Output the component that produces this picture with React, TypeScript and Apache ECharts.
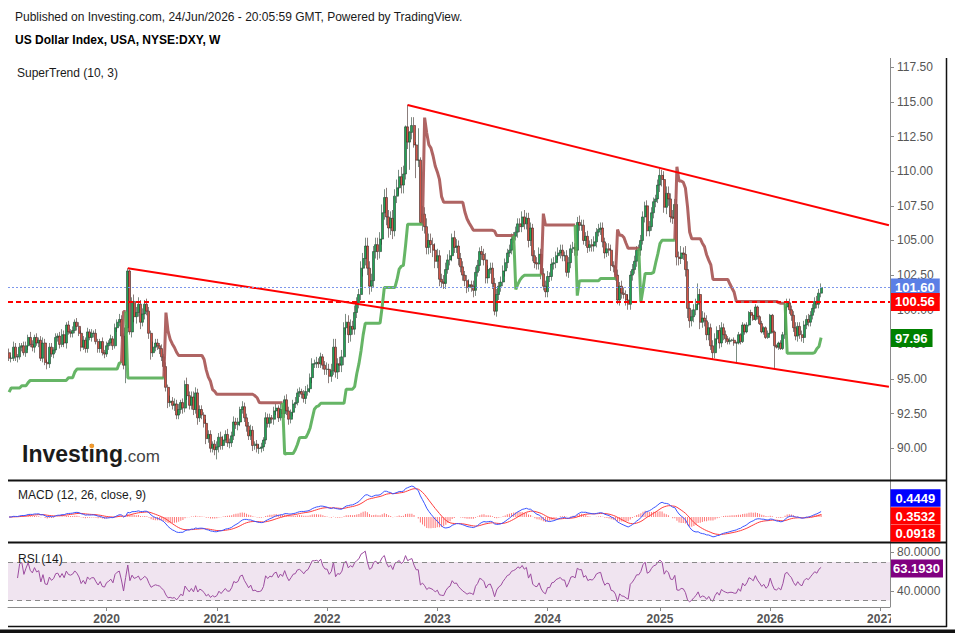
import React, { useEffect, useRef } from "react";
import * as echarts from "echarts";

// ---------- axis / time ----------
const START_WEEK = "2019-02-18"; // Monday of first weekly bar
const WEEK_COUNT = 416; // weeks shown on the time axis (data + empty right margin)
const FIRST_OPEN = 96.9;

// ---------- weekly closes (US Dollar Index) ----------
const closes2019 = [96.5, 96.5, 97.3, 96.6, 96.6, 97.3, 97.4, 96.9, 97.4, 98.0, 97.5, 97.3, 98.0, 97.6, 97.8, 96.5, 97.6, 96.2, 96.1, 97.3, 96.8, 97.1, 98.0, 98.1, 97.5, 98.2, 97.6, 98.9, 98.4, 98.3, 98.5, 99.1, 98.8, 98.3, 97.3, 97.8, 97.2, 98.4, 98.0, 98.3, 98.3, 97.7, 97.2, 97.7, 96.9, 96.8];
const closes2020 = [97.4, 97.6, 97.9, 97.4, 98.7, 99.1, 99.3, 98.1, 96.0, 98.7, 102.8, 98.4, 100.6, 99.5, 99.8, 100.4, 99.1, 99.7, 100.4, 99.9, 98.3, 96.9, 97.3, 97.6, 97.4, 97.2, 96.6, 95.9, 94.4, 93.3, 93.4, 93.1, 93.2, 92.4, 92.8, 93.3, 92.9, 94.6, 93.8, 93.1, 93.7, 92.8, 94.0, 92.2, 92.8, 92.4, 91.8, 90.7, 91.0, 90.0, 90.3, 89.9];
const closes2021 = [90.1, 90.8, 90.2, 90.6, 91.0, 90.4, 90.4, 90.9, 91.9, 91.7, 91.9, 92.8, 93.0, 92.2, 91.6, 90.9, 91.3, 90.2, 90.3, 90.0, 90.0, 90.1, 90.6, 92.2, 91.8, 92.2, 92.1, 92.7, 92.9, 92.2, 92.8, 92.5, 93.5, 92.7, 92.1, 92.6, 93.2, 93.3, 94.0, 94.1, 93.9, 93.6, 94.1, 94.3, 95.1, 96.1, 96.1, 96.2, 96.1, 96.6, 96.0, 95.7];
const closes2022 = [95.7, 95.2, 95.6, 97.3, 95.5, 96.1, 96.0, 96.6, 98.7, 99.1, 98.2, 98.8, 98.6, 99.8, 100.5, 101.1, 103.0, 103.7, 104.6, 103.0, 101.7, 102.1, 104.2, 104.7, 104.2, 105.1, 107.0, 108.1, 106.7, 105.9, 106.6, 105.7, 108.2, 108.8, 109.6, 109.0, 109.8, 113.2, 112.1, 112.8, 113.3, 111.9, 110.8, 110.8, 106.3, 106.9, 106.0, 104.5, 105.0, 104.7, 104.3, 103.5];
const closes2023 = [103.9, 102.2, 102.0, 101.9, 102.9, 103.6, 103.9, 105.2, 104.5, 104.6, 103.7, 103.1, 102.5, 102.1, 101.6, 101.8, 101.7, 101.4, 102.7, 103.2, 104.2, 104.0, 103.6, 102.3, 102.9, 103.0, 101.9, 99.9, 101.1, 101.7, 102.0, 102.8, 103.4, 104.1, 104.3, 105.1, 105.3, 105.6, 106.2, 106.0, 106.7, 106.2, 106.6, 105.0, 105.9, 103.9, 103.4, 103.3, 104.0, 102.6, 101.7, 101.3];
const closes2024 = [102.4, 102.4, 103.3, 103.4, 103.9, 104.1, 104.3, 103.9, 103.9, 102.7, 103.4, 104.4, 104.5, 104.3, 106.3, 106.1, 106.1, 105.0, 105.3, 104.5, 104.7, 104.6, 104.9, 105.6, 105.8, 105.9, 104.9, 104.1, 104.4, 104.3, 103.2, 103.1, 102.5, 100.7, 101.7, 101.2, 101.1, 100.7, 100.4, 102.5, 102.9, 103.5, 104.3, 104.3, 105.0, 106.7, 107.5, 105.7, 106.0, 107.0, 107.8, 108.0, 109.0];
const closes2025 = [109.7, 109.4, 107.4, 108.4, 108.0, 106.7, 106.6, 107.6, 103.8, 103.7, 104.1, 104.0, 102.9, 100.1, 99.2, 99.5, 100.0, 100.4, 101.1, 99.1, 99.4, 99.2, 98.2, 98.7, 97.4, 96.9, 97.9, 98.5, 97.6, 98.7, 98.2, 97.9, 97.7, 97.8, 97.8, 97.6, 97.6, 98.2, 97.7, 98.9, 98.4, 98.9, 99.8, 99.6, 99.3, 100.2, 99.5, 99.0, 98.4, 98.7, 98.0, 98.3];
const closes2026 = [99.6, 98.4, 97.4, 97.3, 97.6, 97.2, 98.2, 100.2, 100.5, 100.0, 99.6, 98.7, 98.1, 98.8, 98.2, 98.0, 98.9, 99.3, 99.1, 99.6, 100.1, 100.6, 100.4, 101.2, 101.6];

// ---------- wick lengths above / below the body, in tenths of an index point ----------
const upWick2019 = [3, 2, 4, 3, 2, 3, 2, 3, 3, 2, 4, 3, 2, 3, 2, 3, 4, 3, 2, 3, 3, 2, 3, 2, 3, 4, 3, 2, 3, 2, 3, 2, 3, 3, 2, 3, 2, 3, 2, 3, 2, 3, 2, 2, 3, 2];
const downWick2019 = [2, 3, 2, 3, 4, 2, 3, 2, 3, 3, 2, 3, 4, 2, 3, 2, 3, 2, 4, 3, 2, 3, 2, 3, 3, 2, 3, 4, 2, 3, 3, 2, 3, 2, 3, 2, 3, 3, 2, 3, 3, 2, 3, 3, 2, 3];
const upWick2020 = [3, 2, 3, 2, 3, 2, 4, 3, 2, 2, 2, 1, 3, 5, 4, 5, 3, 4, 3, 4, 3, 2, 4, 3, 3, 2, 3, 2, 3, 2, 4, 3, 4, 3, 4, 2, 3, 3, 5, 3, 4, 4, 4, 3, 3, 3, 2, 3, 3, 3, 2, 3];
const downWick2020 = [2, 3, 2, 3, 2, 3, 3, 2, 3, 13, 4, 2, 4, 4, 5, 3, 5, 3, 4, 3, 4, 5, 3, 3, 3, 4, 3, 3, 3, 4, 3, 3, 4, 3, 3, 3, 4, 3, 3, 3, 3, 4, 3, 5, 3, 3, 3, 4, 3, 3, 3, 4];
const upWick2021 = [4, 3, 4, 3, 3, 4, 3, 3, 4, 3, 3, 2, 4, 3, 3, 3, 4, 3, 2, 3, 3, 3, 2, 4, 3, 3, 2, 3, 3, 2, 4, 3, 3, 4, 3, 2, 3, 4, 3, 3, 2, 3, 4, 3, 3, 4, 3, 4, 3, 3, 2, 3];
const downWick2021 = [7, 4, 3, 3, 2, 3, 4, 3, 3, 3, 4, 3, 3, 3, 4, 3, 3, 4, 3, 3, 4, 3, 3, 3, 3, 3, 3, 4, 3, 3, 2, 3, 3, 3, 4, 3, 3, 3, 2, 3, 3, 3, 4, 3, 3, 4, 3, 3, 3, 3, 3, 4];
const upWick2022 = [5, 4, 5, 6, 6, 4, 5, 5, 4, 6, 5, 5, 4, 5, 4, 4, 5, 4, 6, 6, 5, 5, 4, 5, 5, 5, 6, 6, 7, 5, 5, 6, 5, 6, 5, 7, 6, 1, 16, 1, 6, 6, 2, 23, 2, 6, 5, 6, 5, 5, 5, 5];
const downWick2022 = [4, 5, 4, 3, 4, 5, 5, 5, 6, 5, 6, 5, 4, 4, 4, 4, 4, 6, 5, 5, 6, 4, 5, 5, 6, 5, 4, 5, 6, 7, 5, 6, 4, 5, 5, 6, 6, 4, 5, 20, 5, 2, 13, 5, 1, 6, 5, 5, 5, 6, 5, 5];
const upWick2023 = [5, 4, 4, 5, 5, 4, 4, 3, 5, 5, 4, 4, 4, 3, 4, 4, 3, 4, 4, 4, 3, 4, 4, 5, 3, 4, 4, 4, 4, 3, 4, 4, 3, 3, 4, 4, 3, 4, 4, 4, 4, 5, 4, 4, 4, 3, 4, 4, 5, 4, 4, 4];
const downWick2023 = [5, 5, 4, 4, 4, 3, 4, 4, 4, 4, 5, 4, 4, 4, 4, 3, 4, 5, 4, 3, 4, 4, 4, 4, 4, 3, 4, 3, 4, 4, 4, 3, 4, 4, 3, 3, 3, 3, 4, 4, 4, 4, 4, 5, 4, 4, 4, 4, 4, 4, 3, 4];
const upWick2024 = [4, 3, 4, 4, 3, 4, 4, 4, 3, 4, 4, 3, 4, 3, 4, 5, 4, 4, 3, 4, 3, 4, 4, 3, 4, 4, 4, 3, 4, 4, 4, 3, 4, 4, 3, 4, 4, 3, 4, 3, 4, 4, 3, 4, 4, 4, 3, 4, 4, 4, 3, 3, 4];
const downWick2024 = [4, 4, 3, 4, 4, 3, 4, 4, 4, 3, 4, 4, 3, 4, 4, 4, 4, 3, 4, 4, 3, 4, 4, 4, 3, 4, 4, 4, 3, 4, 4, 4, 4, 3, 4, 4, 3, 4, 4, 4, 4, 3, 4, 4, 4, 3, 4, 4, 4, 3, 4, 4, 3];
const upWick2025 = [5, 4, 6, 5, 5, 4, 5, 4, 4, 4, 5, 4, 6, 6, 5, 5, 4, 4, 8, 4, 5, 4, 4, 4, 3, 4, 4, 3, 4, 4, 3, 3, 2, 2, 1, 2, 1, 2, 1, 2, 1, 2, 1, 2, 1, 2, 1, 1, 2, 1, 1, 2];
const downWick2025 = [5, 5, 4, 5, 5, 4, 4, 4, 6, 5, 4, 4, 5, 7, 5, 4, 4, 4, 4, 5, 4, 4, 4, 4, 3, 5, 4, 4, 4, 3, 4, 3, 2, 2, 1, 2, 14, 1, 2, 1, 2, 1, 1, 2, 1, 1, 2, 1, 1, 2, 1, 1];
const upWick2026 = [1, 1, 1, 1, 1, 2, 2, 3, 3, 3, 3, 3, 4, 3, 3, 3, 3, 3, 4, 3, 3, 3, 4, 3, 3];
const downWick2026 = [1, 1, 16, 1, 2, 1, 1, 3, 3, 3, 4, 3, 3, 4, 3, 3, 4, 3, 3, 3, 3, 3, 3, 3, 3];

// ---------- drawn levels / readouts ----------
const trendUpper = [[188, 114.78], [415, 106.1]]; // [week index, price]
const trendLower = [[56, 103.0], [415, 94.45]];
const resistanceLevel = 100.56;
const superTrendReadout = 97.96;
const macdReadouts = ["0.4449", "0.3532", "0.0918"];
const rsiReadout = 63.193;
const priceAxis = { min: 90, max: 117.5, step: 2.5 };

const FONT = '"Liberation Sans", Arial, Helvetica, sans-serif';

// ---------- tables built from the arrays ----------
const closes = [...closes2019, ...closes2020, ...closes2021, ...closes2022, ...closes2023, ...closes2024, ...closes2025, ...closes2026];
const upWicks = [...upWick2019, ...upWick2020, ...upWick2021, ...upWick2022, ...upWick2023, ...upWick2024, ...upWick2025, ...upWick2026];
const downWicks = [...downWick2019, ...downWick2020, ...downWick2021, ...downWick2022, ...downWick2023, ...downWick2024, ...downWick2025, ...downWick2026];
const opens = closes.map((c, i) => (i === 0 ? FIRST_OPEN : closes[i - 1]));
const highs = closes.map((c, i) => +(Math.max(opens[i], c) + upWicks[i] / 10).toFixed(2));
const lows = closes.map((c, i) => +(Math.min(opens[i], c) - downWicks[i] / 10).toFixed(2));
const ohlc = closes.map((c, i) => [opens[i], c, lows[i], highs[i]]);

const categories: string[] = (() => {
  const out: string[] = [];
  const t0 = Date.parse(START_WEEK + "T00:00:00Z");
  for (let i = 0; i < WEEK_COUNT; i++) out.push(new Date(t0 + i * 7 * 86400000).toISOString().slice(0, 10));
  return out;
})();
const isYearStart = (_i: number, v: string) => v.slice(5, 7) === "01" && +v.slice(8, 10) <= 7;

function ema(arr: number[], n: number) {
  const a = 2 / (n + 1);
  const out: number[] = [];
  arr.forEach((v, i) => out.push(i === 0 ? v : a * v + (1 - a) * out[i - 1]));
  return out;
}
const ema12 = ema(closes, 12);
const ema26 = ema(closes, 26);
const macd = closes.map((_, i) => ema12[i] - ema26[i]);
const signal = ema(macd, 9);
const hist = macd.map((m, i) => m - signal[i]);

function rsi(arr: number[], n: number) {
  const out: (number | null)[] = [null];
  let g = 0, l = 0;
  for (let i = 1; i < arr.length; i++) {
    const d = arr[i] - arr[i - 1];
    const up = Math.max(d, 0), dn = Math.max(-d, 0);
    const k = Math.min(i, n);
    g = (g * (k - 1) + up) / k;
    l = (l * (k - 1) + dn) / k;
    out.push(i < 4 ? null : l === 0 ? 100 : 100 - 100 / (1 + g / l));
  }
  return out;
}
const rsi14 = rsi(closes, 14);

function superTrend(period: number, mult: number) {
  const n = closes.length;
  const up: number[] = [], dn: number[] = [], trend: number[] = [];
  let atr = 0;
  for (let i = 0; i < n; i++) {
    const tr = i === 0 ? highs[0] - lows[0] : Math.max(highs[i] - lows[i], Math.abs(highs[i] - closes[i - 1]), Math.abs(lows[i] - closes[i - 1]));
    const k = Math.min(i + 1, period);
    atr = (atr * (k - 1) + tr) / k;
    const hl2 = (highs[i] + lows[i]) / 2;
    let u = hl2 - mult * atr, d = hl2 + mult * atr;
    if (i > 0) {
      if (closes[i - 1] > up[i - 1]) u = Math.max(u, up[i - 1]);
      if (closes[i - 1] < dn[i - 1]) d = Math.min(d, dn[i - 1]);
    }
    up.push(u); dn.push(d);
    let t = i === 0 ? 1 : trend[i - 1];
    if (i > 0) {
      if (t === -1 && closes[i] > dn[i - 1]) t = 1;
      else if (t === 1 && closes[i] < up[i - 1]) t = -1;
    }
    trend.push(t);
  }
  const green: (number | null)[] = [], brown: (number | null)[] = [];
  for (let i = 0; i < n; i++) {
    green.push(trend[i] === 1 ? up[i] : null);
    brown.push(trend[i] === -1 ? dn[i] : null);
    if (i > 0 && trend[i] !== trend[i - 1]) {
      if (trend[i] === 1) green[i - 1] = dn[i - 1];
      else brown[i - 1] = up[i - 1];
    }
  }
  return { green, brown };
}
const st = superTrend(10, 3);

function buildOption() {
  const mVals = [...macd, ...signal, ...hist];
  const mMax = Math.max(...mVals), mMin = Math.min(...mVals);
  const s = Math.max(mMax / 31, -mMin / 23);

  const txt = (x: number, y: number, text: string, size: number, bold = false, fill = "#1a1a1a") => ({
    type: "text", x, y, silent: true, z: 100,
    style: { text, font: `${bold ? "bold " : ""}${size}px ${FONT}`, fill, textVerticalAlign: "middle", textAlign: "left" },
  });
  const line = (x1: number, y1: number, x2: number, y2: number, stroke: string, lineWidth: number) => ({
    type: "line", silent: true, z: 100, shape: { x1, y1, x2, y2 }, style: { stroke, lineWidth },
  });
  const box = (y: number, h: number, fill: string, text: string) => [
    { type: "rect", silent: true, z: 100, shape: { x: 890.5, y, width: 50, height: h }, style: { fill } },
    txt(895.5, y + h / 2 + 0.5, text, 13, true, "#ffffff"),
  ];
  const readout = (value: number, text: string, bg: string) => ({
    yAxis: value,
    lineStyle: { color: "transparent", width: 0 },
    label: { show: true, position: "end", distance: 0, formatter: text, backgroundColor: bg, color: "#fff", fontWeight: "bold", fontSize: 13, fontFamily: FONT, padding: [3, 5, 2, 5] },
  });

  const xAxisBase = (g: number) => ({
    type: "category", gridIndex: g, data: categories, boundaryGap: true,
    axisLine: { show: g === 2, lineStyle: { color: "#8a8a8a" } },
    axisTick: { show: g === 2, interval: isYearStart, alignWithLabel: true, length: 4, lineStyle: { color: "#8a8a8a" } },
    axisLabel: { show: g === 2, interval: isYearStart, formatter: (v: string) => v.slice(0, 4), color: "#555", fontWeight: "bold", fontSize: 12, fontFamily: FONT, margin: 6 },
    splitLine: { show: false },
  });

  return {
    animation: false,
    backgroundColor: "#ffffff",
    textStyle: { fontFamily: FONT },
    grid: [
      { left: 8, right: 65, top: 67.3, height: 381 },
      { left: 8, right: 65, top: 482, height: 60 },
      { left: 8, right: 65, top: 543, height: 64 },
    ],
    xAxis: [xAxisBase(0), xAxisBase(1), xAxisBase(2)],
    yAxis: [
      {
        type: "value", gridIndex: 0, position: "right", min: priceAxis.min, max: priceAxis.max, interval: priceAxis.step,
        axisLine: { show: false }, splitLine: { show: false },
        axisTick: { show: true, length: 4, lineStyle: { color: "#8a8a8a" } },
        axisLabel: { formatter: (v: number) => v.toFixed(2), color: "#555", fontSize: 12, fontFamily: FONT, margin: 7 },
      },
      { type: "value", gridIndex: 1, position: "right", min: -25 * s, max: 35 * s, show: false, splitLine: { show: false } },
      {
        type: "value", gridIndex: 2, position: "right", min: 23.25, max: 89.74, splitNumber: 3,
        axisLine: { show: false }, splitLine: { show: false },
        axisTick: { show: true, length: 4, lineStyle: { color: "#8a8a8a" } },
        axisLabel: { showMinLabel: false, showMaxLabel: false, formatter: (v: number) => (v === 40 || v === 80 ? v.toFixed(4) : ""), color: "#555", fontSize: 12, fontFamily: FONT, margin: 7 },
      },
    ],
    series: [
      {
        type: "candlestick", xAxisIndex: 0, yAxisIndex: 0, data: ohlc, barWidth: 2.5, clip: false,
        itemStyle: { color: "#22a355", color0: "#d25548", borderColor: "#23402f", borderColor0: "#3d2624", borderWidth: 0.6 },
        markLine: {
          silent: true, symbol: ["none", "none"], animation: false,
          data: [
            { yAxis: closes[closes.length - 1], lineStyle: { color: "#7d97ec", width: 1, type: [2, 2] }, label: { show: true, position: "end", distance: 0, formatter: closes[closes.length - 1].toFixed(2), backgroundColor: "#5b7fe6", color: "#fff", fontWeight: "bold", fontSize: 13, fontFamily: FONT, padding: [3, 5, 2, 5] } },
            { yAxis: resistanceLevel, lineStyle: { color: "#ff0000", width: 2, type: [5, 3] }, label: { show: true, position: "end", distance: 0, formatter: resistanceLevel.toFixed(2), backgroundColor: "#ff0000", color: "#fff", fontWeight: "bold", fontSize: 13, fontFamily: FONT, padding: [3, 5, 2, 5] } },
            readout(superTrendReadout, superTrendReadout.toFixed(2), "#008000"),
          ],
        },
      },
      { type: "line", xAxisIndex: 0, yAxisIndex: 0, data: st.brown, showSymbol: false, connectNulls: false, clip: false, lineStyle: { color: "#a65352", width: 3, opacity: 0.9 }, z: 3 },
      { type: "line", xAxisIndex: 0, yAxisIndex: 0, data: st.green, showSymbol: false, connectNulls: false, clip: false, lineStyle: { color: "#55ad55", width: 3, opacity: 0.9 }, z: 3 },
      { type: "line", xAxisIndex: 0, yAxisIndex: 0, data: trendUpper, showSymbol: false, lineStyle: { color: "#ff0000", width: 2 }, z: 4 },
      { type: "line", xAxisIndex: 0, yAxisIndex: 0, data: trendLower, showSymbol: false, lineStyle: { color: "#ff0000", width: 2 }, z: 4 },
      { type: "bar", xAxisIndex: 1, yAxisIndex: 1, data: hist, barWidth: 1, itemStyle: { color: "rgba(255,60,60,0.7)" } },
      { type: "line", xAxisIndex: 1, yAxisIndex: 1, data: signal, showSymbol: false, lineStyle: { color: "#ff3c3c", width: 1 } },
      { type: "line", xAxisIndex: 1, yAxisIndex: 1, data: macd, showSymbol: false, lineStyle: { color: "#3a55ff", width: 1 } },
      {
        type: "line", xAxisIndex: 2, yAxisIndex: 2, data: rsi14, showSymbol: false, lineStyle: { color: "#9c4c9f", width: 1 },
        markArea: { silent: true, itemStyle: { color: "#f0e4f0" }, data: [[{ yAxis: 30 }, { yAxis: 70 }]] },
        markLine: {
          silent: true, symbol: ["none", "none"],
          data: [
            { yAxis: 70, lineStyle: { color: "#8a8a8a", width: 1, type: [5, 4] }, label: { show: false } },
            { yAxis: 30, lineStyle: { color: "#8a8a8a", width: 1, type: [5, 4] }, label: { show: false } },
            { yAxis: rsiReadout, lineStyle: { color: "transparent", width: 0 }, label: { show: true, position: "end", distance: 0, formatter: rsiReadout.toFixed(4), backgroundColor: "#800080", color: "#fff", fontWeight: "bold", fontSize: 13, fontFamily: FONT, padding: [3, 3, 2, 3] } },
          ],
        },
      },
    ],
    graphic: {
      elements: [
        txt(15, 17, "Published on Investing.com, 24/Jun/2026 - 20:05:59 GMT, Powered by TradingView.", 12),
        txt(15, 40, "US Dollar Index, USA, NYSE:DXY, W", 12, true, "#000"),
        txt(17, 73, "SuperTrend (10, 3)", 12),
        txt(18, 495, "MACD (12, 26, close, 9)", 12),
        txt(18, 559, "RSI (14)", 12),
        txt(22, 454, "Investing", 23, true, "#1b1b1b"),
        txt(123, 456, ".com", 17, false, "#444"),
        { type: "circle", silent: true, z: 101, shape: { cx: 91.8, cy: 446, r: 2.4 }, style: { fill: "#f29a2e" } },
        line(890.5, 58, 890.5, 607, "#8a8a8a", 1),
        line(8, 480.5, 947, 480.5, "#111", 2),
        line(8, 542.5, 947, 542.5, "#111", 2),
        line(946.5, 58, 946.5, 627, "#111", 1.5),
        line(8, 626.5, 947, 626.5, "#111", 1.5),
        { type: "rect", silent: true, z: 100, shape: { x: 0, y: 629.5, width: 955, height: 3.5 }, style: { fill: "#111" } },
        { type: "rect", silent: true, z: 100, shape: { x: 891, y: 610, width: 54, height: 15 }, style: { fill: "#fff" } },
        ...box(489.3, 17.5, "#0000ff", macdReadouts[0]),
        ...box(507.2, 17.3, "#ff0000", macdReadouts[1]),
        ...box(524.8, 17, "#ff0000", macdReadouts[2]),
      ],
    },
  };
}

export default function App() {
  const ref = useRef<HTMLDivElement>(null);
  useEffect(() => {
    if (!ref.current) return;
    const chart = echarts.init(ref.current, undefined, { renderer: "svg" });
    chart.setOption(buildOption() as any);
    return () => chart.dispose();
  }, []);
  return <div ref={ref} style={{ position: "fixed", left: 0, top: 0, width: 955, height: 633, background: "#fff" }} />;
}
